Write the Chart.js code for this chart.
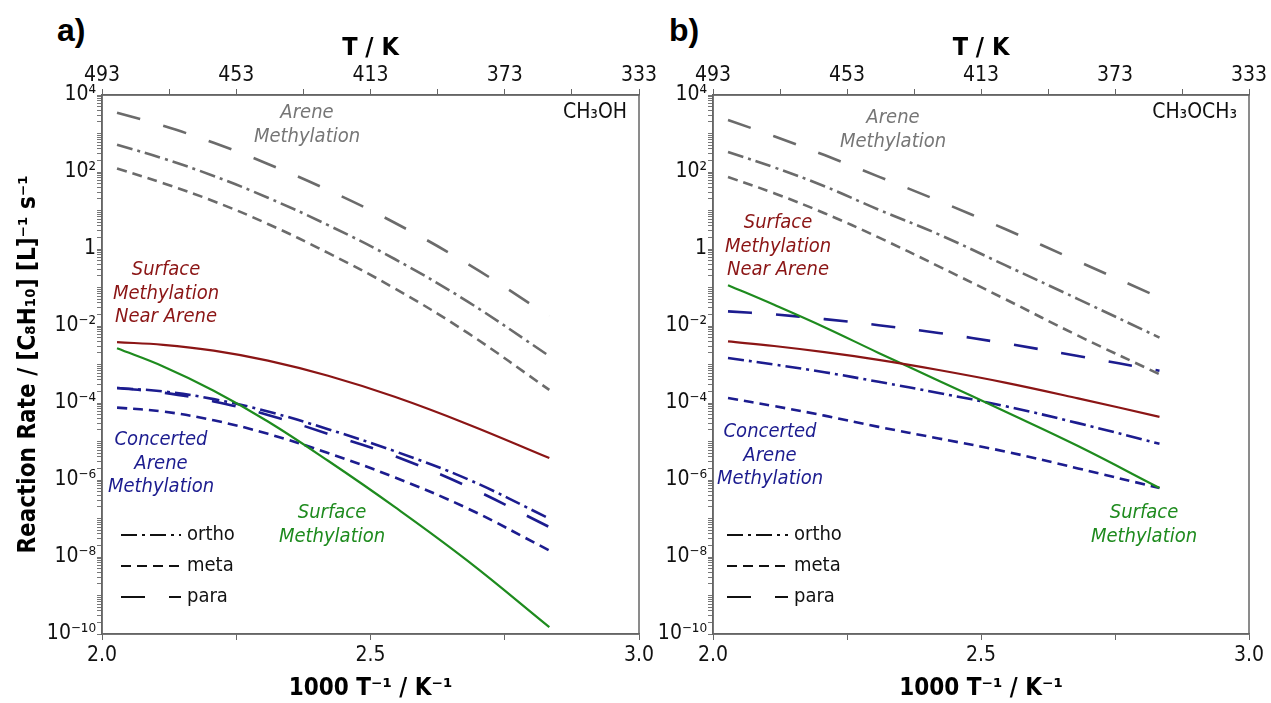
<!DOCTYPE html>
<html>
<head>
<meta charset="utf-8">
<script src="https://cdn.jsdelivr.net/npm/chart.js@4.4.1/dist/chart.umd.min.js"></script>
<style>
  body { margin: 0; background: #fff; width: 1271px; height: 703px; position: relative; overflow: hidden; }
  canvas { position: absolute; top: 0; }
  #chartA { left: 0; }
  #chartB { left: 640px; }
  .panel { position: absolute; font: bold 32px "Liberation Sans", Arial, sans-serif; line-height: 1; color: #000; }
</style>
</head>
<body>
<div class="panel" style="left:57px; top:14px;">a)</div>
<div class="panel" style="left:669px; top:14px;">b)</div>
<canvas id="chartA" width="660" height="703"></canvas>
<canvas id="chartB" width="631" height="703"></canvas>
<script>
// 1000/T positions of the computed points (T = 493 ... 353 K)
var invT = [2.028, 2.114, 2.208, 2.309, 2.421, 2.545, 2.681, 2.833]

// panel a) CH3OH
var areneParaA = [3.47e3, 1.58e3, 575, 162, 33.9, 4.8, 0.41, 0.018]
var areneOrthoA = [513, 224, 79, 21.4, 4.17, 0.55, 0.043, 1.66e-3]
var areneMetaA = [123, 51.3, 17.4, 4.47, 0.79, 0.095, 6.6e-3, 2.19e-4]
var surfNearA = [3.8e-3, 3.24e-3, 2.29e-3, 1.26e-3, 5.1e-4, 1.45e-4, 2.82e-5, 3.72e-6]
var surfaceA = [2.63e-3, 8.9e-4, 2.09e-4, 3.31e-5, 3.16e-6, 2.0e-7, 7.94e-9, 1.51e-10]
var concOrthoA = [2.45e-4, 2.0e-4, 1.26e-4, 6.0e-5, 2.09e-5, 5.6e-6, 1.05e-6, 1.0e-7]
var concParaA = [2.45e-4, 1.86e-4, 1.10e-4, 4.9e-5, 1.58e-5, 4.17e-6, 6.76e-7, 6.0e-8]
var concMetaA = [7.6e-5, 6.0e-5, 3.55e-5, 1.58e-5, 5.0e-6, 1.17e-6, 1.82e-7, 1.48e-8]

// panel b) CH3OCH3
var areneParaB = [2.24e3, 851, 275, 75.9, 17.8, 3.31, 0.479, 0.055]
var areneOrthoB = [331, 132, 42.7, 10.5, 2.4, 0.38, 0.050, 5.0e-3]
var areneMetaB = [74.1, 28.2, 8.5, 2.0, 0.355, 0.050, 5.6e-3, 5.6e-4]
var surfNearB = [3.98e-3, 3.02e-3, 2.09e-3, 1.32e-3, 7.2e-4, 3.39e-4, 1.32e-4, 4.37e-5]
var surfaceB = [0.115, 0.0355, 9.3e-3, 2.0e-3, 3.8e-4, 6.0e-5, 7.6e-6, 6.2e-7]
var concParaB = [0.024, 0.020, 0.0151, 0.0105, 6.6e-3, 3.55e-3, 1.66e-3, 6.9e-4]
var concOrthoB = [1.48e-3, 1.0e-3, 6.3e-4, 3.55e-4, 1.82e-4, 8.3e-5, 3.0e-5, 8.7e-6]
var concMetaB = [1.35e-4, 8.3e-5, 4.7e-5, 2.4e-5, 1.2e-5, 5.5e-6, 2.0e-6, 6.2e-7]

// axes
var xTicks = [2.0, 2.25, 2.5, 2.75, 3.0]
var xTickLabels = ['2.0', '', '2.5', '', '3.0']
var tTicks = [493, 473, 453, 433, 413, 393, 373, 353, 333]
var tTickLabels = ['493', '', '453', '', '413', '', '373', '', '333']
var yTickExps = [4, 2, 0, -2, -4, -6, -8, -10]
var yTickLabels = ['10\u2074', '10\u00b2', '1', '10\u207b\u00b2', '10\u207b\u2074', '10\u207b\u2076', '10\u207b\u2078', '10\u207b\u00b9\u2070']

var isomers = ['ortho', 'meta', 'para']
var dashes = { ortho: [16, 5, 3, 5], meta: [10, 6], para: [24, 24], solid: [] }

var GRAY = '#6b6b6b'
var RED = '#8b1515'
var GREEN = '#1e8b1e'
var BLUE = '#1c1c8f'
var NARROW = '"Liberation Sans Narrow", "DejaVu Sans Condensed", "Arial Narrow", sans-serif'

Chart.defaults.font.family = NARROW
Chart.defaults.color = '#111'

function line (values, color, dash) {
  return {
    data: values.map(function (v, i) { return { x: invT[i], y: v } }),
    borderColor: color,
    borderDash: dashes[dash],
    borderWidth: dash === 'solid' ? 2.2 : 2.6,
    pointRadius: 0,
    fill: false,
    tension: 0.4
  }
}

function yTicks () {
  var t = []
  for (var e = -10; e < 4; e++) {
    for (var m = 1; m < 10; m++) t.push({ value: m * Math.pow(10, e) })
  }
  t.push({ value: 1e4 })
  return t
}

// frame, text labels and the little line-style key
var panelText = {
  id: 'panelText',
  afterDraw: function (chart, args, opts) {
    var a = chart.chartArea
    var ctx = chart.ctx
    ctx.save()
    ctx.strokeStyle = '#666'
    ctx.lineWidth = 1.5
    ctx.strokeRect(a.left, a.top, a.right - a.left, a.bottom - a.top)
    ctx.textBaseline = 'middle'
    opts.notes.forEach(function (n) {
      ctx.font = n.font || 'italic 20px ' + NARROW
      ctx.fillStyle = n.color
      ctx.textAlign = n.align || 'center'
      n.lines.forEach(function (txt, i) {
        ctx.fillText(txt, a.left + n.dx, a.top + n.dy + i * 23.5)
      })
    })
    var k = opts.key
    isomers.forEach(function (name, i) {
      var y = a.top + k.dy + i * 31
      ctx.strokeStyle = '#111'
      ctx.lineWidth = 2
      ctx.setLineDash(dashes[name])
      ctx.beginPath()
      ctx.moveTo(a.left + k.x0, y)
      ctx.lineTo(a.left + k.x1, y)
      ctx.stroke()
      ctx.setLineDash([])
      ctx.fillStyle = '#111'
      ctx.textAlign = 'left'
      ctx.font = '20px ' + NARROW
      ctx.fillText(name, a.left + k.x1 + 6, y)
    })
    ctx.restore()
  }
}

function makeChart (id, sets, yWidth, showYTitle, padRight, notes, key) {
  return new Chart(document.getElementById(id), {
    type: 'line',
    data: { datasets: sets },
    plugins: [panelText],
    options: {
      responsive: false,
      animation: false,
      devicePixelRatio: 1,
      layout: { padding: { left: 0, top: 0, right: padRight, bottom: 0 } },
      plugins: {
        legend: { display: false },
        tooltip: { enabled: false },
        panelText: { notes: notes, key: key }
      },
      scales: {
        x: {
          type: 'linear',
          position: 'bottom',
          min: 2,
          max: 3,
          afterBuildTicks: function (s) { s.ticks = xTicks.map(function (v) { return { value: v } }) },
          afterFit: function (s) { s.height = 69 },
          ticks: {
            autoSkip: false,
            maxRotation: 0,
            padding: 3,
            font: { size: 21 },
            color: '#111',
            callback: function (v, i) { return xTickLabels[i] }
          },
          grid: { drawOnChartArea: false, tickLength: 6, color: '#666' },
          border: { color: '#666', width: 1.5 },
          title: {
            display: true,
            text: '1000 T\u207b\u00b9 / K\u207b\u00b9',
            color: '#000',
            font: { size: 24, weight: 'bold' },
            padding: { top: 0, bottom: 0 }
          }
        },
        xTop: {
          type: 'linear',
          position: 'top',
          reverse: true,
          min: 333,
          max: 493,
          afterBuildTicks: function (s) { s.ticks = tTicks.map(function (v) { return { value: v } }) },
          afterFit: function (s) { s.height = 95 },
          ticks: {
            autoSkip: false,
            maxRotation: 0,
            padding: 1,
            font: { size: 21 },
            color: '#111',
            callback: function (v, i) { return tTickLabels[i] }
          },
          grid: { drawOnChartArea: false, tickLength: 6, color: '#666' },
          border: { color: '#666', width: 1.5 },
          title: {
            display: true,
            text: 'T / K',
            color: '#000',
            font: { size: 25, weight: 'bold' },
            padding: { top: 33, bottom: 0 }
          }
        },
        y: {
          type: 'logarithmic',
          min: 1e-10,
          max: 1e4,
          afterBuildTicks: function (s) { s.ticks = yTicks() },
          afterFit: function (s) { s.width = yWidth },
          ticks: {
            autoSkip: false,
            padding: 1,
            font: { size: 21 },
            color: '#111',
            callback: function (v) {
              var e = Math.round(Math.log10(v))
              if (Math.abs(v / Math.pow(10, e) - 1) > 1e-6) return ''
              var k = yTickExps.indexOf(e)
              return k < 0 ? '' : yTickLabels[k]
            }
          },
          grid: { drawOnChartArea: false, tickLength: 5, color: '#777' },
          border: { color: '#666', width: 1.5 },
          title: {
            display: showYTitle,
            text: 'Reaction Rate / [C\u2088H\u2081\u2080] [L]\u207b\u00b9 s\u207b\u00b9',
            color: '#000',
            font: { size: 24, weight: 'bold' },
            padding: { top: 14, bottom: 0 }
          }
        }
      }
    }
  })
}

var chartA = makeChart('chartA', [
  line(areneParaA, GRAY, 'para'),
  line(areneOrthoA, GRAY, 'ortho'),
  line(areneMetaA, GRAY, 'meta'),
  line(surfNearA, RED, 'solid'),
  line(surfaceA, GREEN, 'solid'),
  line(concOrthoA, BLUE, 'ortho'),
  line(concParaA, BLUE, 'para'),
  line(concMetaA, BLUE, 'meta')
], 102, true, 21, [
  { lines: ['Arene', 'Methylation'], dx: 205, dy: 18, color: '#767676' },
  { lines: ['CH\u2083OH'], dx: 525, dy: 18, color: '#111', align: 'right', font: '21px ' + NARROW },
  { lines: ['Surface', 'Methylation', 'Near Arene'], dx: 64, dy: 175, color: RED },
  { lines: ['Concerted', 'Arene', 'Methylation'], dx: 59, dy: 345, color: BLUE },
  { lines: ['Surface', 'Methylation'], dx: 230, dy: 418, color: GREEN }
], { x0: 19, x1: 79, dy: 440 })

var chartB = makeChart('chartB', [
  line(areneParaB, GRAY, 'para'),
  line(areneOrthoB, GRAY, 'ortho'),
  line(areneMetaB, GRAY, 'meta'),
  line(surfNearB, RED, 'solid'),
  line(surfaceB, GREEN, 'solid'),
  line(concParaB, BLUE, 'para'),
  line(concOrthoB, BLUE, 'ortho'),
  line(concMetaB, BLUE, 'meta')
], 73, false, 22, [
  { lines: ['Arene', 'Methylation'], dx: 180, dy: 23, color: '#767676' },
  { lines: ['CH\u2083OCH\u2083'], dx: 524, dy: 18, color: '#111', align: 'right', font: '21px ' + NARROW },
  { lines: ['Surface', 'Methylation', 'Near Arene'], dx: 65, dy: 128, color: RED },
  { lines: ['Concerted', 'Arene', 'Methylation'], dx: 57, dy: 337, color: BLUE },
  { lines: ['Surface', 'Methylation'], dx: 431, dy: 418, color: GREEN }
], { x0: 14, x1: 75, dy: 440 })
</script>
</body>
</html>
